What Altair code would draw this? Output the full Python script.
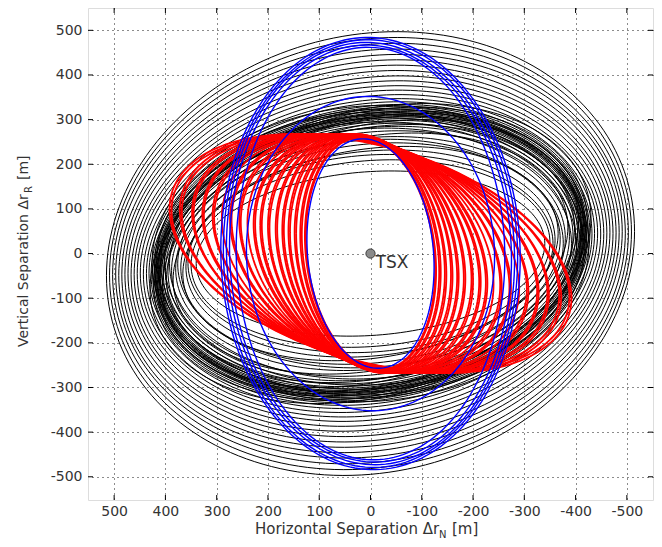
import altair as alt
import numpy as np
import pandas as pd

# ---- values ----
tick_vals = [-500, -400, -300, -200, -100, 0, 100, 200, 300, 400, 500]

# black relative orbits: semi-axis in N (x), semi-axis in R (y), phase shift (rad)
black_a = [515, 509, 503, 497, 491, 485, 479, 473, 467, 461, 455, 449, 443, 437,
           432, 428, 425, 422, 420, 418, 416, 414, 412, 410, 407, 404, 400, 395,
           388, 380, 370, 360, 350, 340,
           430, 426, 423, 421, 419, 417, 415, 413, 411, 409, 406, 402, 398, 392,
           385, 376, 366, 356]
black_b = [497, 484, 471, 458, 446, 434, 422, 410, 398, 387, 376, 366, 356, 347,
           340, 334, 330, 326, 322, 318, 315, 312, 309, 306, 302, 298, 292, 285,
           275, 262, 248, 232, 210, 185,
           336, 332, 328, 324, 320, 317, 314, 311, 308, 304, 300, 295, 289, 281,
           270, 256, 240, 222]
black_phase = [-0.10, -0.10, -0.10, -0.10, -0.11, -0.11, -0.11, -0.11, -0.12, -0.12,
               -0.12, -0.12, -0.13, -0.13, -0.13, -0.14, -0.14, -0.14, -0.14, -0.15,
               -0.15, -0.15, -0.15, -0.15, -0.15, -0.15, -0.14, -0.14, -0.14, -0.13,
               -0.13, -0.13, -0.12, -0.12,
               -0.24, -0.06, -0.22, -0.08, -0.20, -0.05, -0.23, -0.09, -0.21, -0.07,
               -0.25, -0.06, -0.20, -0.08, -0.22, -0.09, -0.19, -0.10]

# red relative orbits
red_a = [392, 388, 372, 368, 348, 345, 328, 325, 308, 305, 290, 274, 271, 256, 253,
         240, 228, 225, 215, 212, 200, 197, 185, 182, 172, 169, 160, 157, 148, 145,
         137, 134, 128, 126]
red_b = [268, 265, 268, 265, 268, 265, 268, 265, 268, 265, 267, 268, 265, 268, 265,
         267, 268, 265, 268, 265, 268, 265, 268, 265, 268, 265, 268, 265, 266, 264,
         265, 263, 262, 260]
red_phase = [0.38, 0.37, 0.37, 0.36, 0.35, 0.34, 0.33, 0.33, 0.32, 0.31, 0.30, 0.29,
             0.29, 0.28, 0.27, 0.26, 0.25, 0.25, 0.24, 0.24, 0.23, 0.22, 0.21, 0.21,
             0.20, 0.20, 0.19, 0.18, 0.18, 0.17, 0.16, 0.16, 0.15, 0.15]

# blue relative orbits
blue_a = [292, 287, 281, 275, 262, 242, 124]
blue_b = [484, 479, 473, 467, 462, 352, 257]
blue_phase = [0.02, 0.02, 0.03, 0.03, 0.02, 0.02, 0.12]

tsx_x = [0]
tsx_y = [0]
tsx_label = ["TSX"]

FONT = "DejaVu Sans"
TXT = "#333333"
W, H = 565, 492


def orbits(a_list, b_list, ph_list):
    rows = []
    t = np.linspace(0, 2 * np.pi, 181)
    for k, (a, b, ph) in enumerate(zip(a_list, b_list, ph_list)):
        xs = a * np.cos(t)
        ys = b * np.sin(t + ph)
        for i, (x, y) in enumerate(zip(xs, ys)):
            rows.append({"id": k, "i": i, "x": round(float(x), 2), "y": round(float(y), 2)})
    return pd.DataFrame(rows)


xscale = alt.Scale(domain=[-551, 551], reverse=True, nice=False, zero=False)
yscale = alt.Scale(domain=[-552, 550], nice=False, zero=False)

xaxis = alt.Axis(values=tick_vals, title=None, grid=True, ticks=False, domain=False,
                 labelPadding=4, labelExpr="'' + datum.value", labelFontSize=14,
                 labelFont=FONT, labelColor=TXT, gridColor="#000",
                 gridDash=[1, 4], gridWidth=1, gridOpacity=0.9)
yaxis = alt.Axis(values=tick_vals, title=None, grid=True, ticks=False, domain=False,
                 labelPadding=6, labelExpr="'' + datum.value", labelFontSize=14,
                 labelFont=FONT, labelColor=TXT, gridColor="#000",
                 gridDash=[1, 4], gridWidth=1, gridOpacity=0.9)


def X(f):
    return alt.X(f, scale=xscale, axis=xaxis)


def Y(f):
    return alt.Y(f, scale=yscale, axis=yaxis)


def orbit_layer(df, color, width):
    return alt.Chart(df).mark_line(color=color, strokeWidth=width).encode(
        x=X("x:Q"), y=Y("y:Q"), detail="id:N", order="i:Q")


black = orbit_layer(orbits(black_a, black_b, black_phase), "#000000", 1.0)
red = orbit_layer(orbits(red_a, red_b, red_phase), "#ff0000", 1.8)
blue = orbit_layer(orbits(blue_a, blue_b, blue_phase), "#0000ff", 1.4)

ticks_df = pd.DataFrame({"x": tick_vals, "y": tick_vals})
tick_len = 5
tick_bottom = alt.Chart(ticks_df).mark_rule(color="#000").encode(
    x=X("x:Q"), y=alt.value(H - tick_len), y2=alt.value(H))
tick_top = alt.Chart(ticks_df).mark_rule(color="#000").encode(
    x=X("x:Q"), y=alt.value(0), y2=alt.value(tick_len))
tick_left = alt.Chart(ticks_df).mark_rule(color="#000").encode(
    y=Y("y:Q"), x=alt.value(0), x2=alt.value(tick_len))
tick_right = alt.Chart(ticks_df).mark_rule(color="#000").encode(
    y=Y("y:Q"), x=alt.value(W - tick_len), x2=alt.value(W))

tsx_df = pd.DataFrame({"x": tsx_x, "y": tsx_y, "label": tsx_label})
tsx_pt = alt.Chart(tsx_df).mark_point(filled=True, shape="circle", size=85,
                                      fill="#8a8a8a", stroke="#3a3a3a",
                                      strokeWidth=1, opacity=1).encode(
    x=X("x:Q"), y=Y("y:Q"))
tsx_txt = alt.Chart(tsx_df).mark_text(align="left", baseline="alphabetic", dx=5, dy=14,
                                      font=FONT, fontSize=17, color=TXT).encode(
    x=X("x:Q"), y=Y("y:Q"), text="label:N")


def label(txt, x, y, size, angle=0):
    return alt.Chart(tsx_df).mark_text(
        align="left", baseline="alphabetic", font=FONT, fontSize=size,
        color=TXT, angle=angle).encode(
        x=alt.value(x), y=alt.value(y), text=alt.value(txt))


xt1 = label("Horizontal Separation \u0394r", 167, 526, 15)
xt2 = label("N", 351, 530, 10)
xt3 = label("[m]", 364, 526, 15)
yt1 = label("Vertical Separation \u0394r", -60, 339, 14, 270)
yt2 = label("R", -56, 185, 10, 270)
yt3 = label("[m]", -60, 172, 14, 270)

chart = alt.layer(
    black, red, blue, tick_bottom, tick_top, tick_left, tick_right,
    tsx_pt, tsx_txt, xt1, xt2, xt3, yt1, yt2, yt3
).properties(
    width=W, height=H,
    autosize=alt.AutoSizeParams(type="none"),
    padding={"left": 80, "top": 0, "right": 1, "bottom": 39},
).configure_view(stroke="#000", strokeWidth=1).configure(background="white")

chart.save("out.html", embed_options={"renderer": "svg", "actions": False})
